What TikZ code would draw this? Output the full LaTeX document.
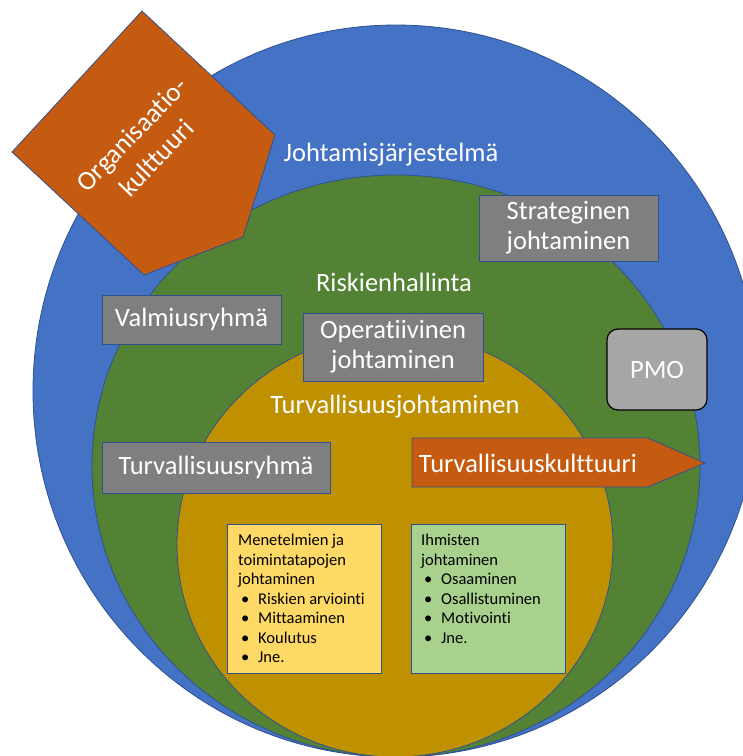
\documentclass[tikz,border=0pt]{standalone}
\usepackage{fontspec}
\setmainfont[RawFeature={-liga;-clig;-calt;-dlig}]{Carlito}
\definecolor{cblue}{HTML}{4472C4}
\definecolor{cgreen}{HTML}{548235}
\definecolor{cgold}{HTML}{BF9000}
\definecolor{corange}{HTML}{C55A11}
\definecolor{cgray}{HTML}{7F7F7F}
\definecolor{cpmo}{HTML}{A6A6A6}
\definecolor{cyellow}{HTML}{FFD966}
\definecolor{clgreen}{HTML}{A9D18E}
\definecolor{cline}{HTML}{2F528F}
\tikzset{
  ring/.style={draw=cline, line width=0.8pt},
  graybox/.style={draw=cline, line width=0.8pt, fill=cgray, text=white, font=\fontsize{26.5}{30}\selectfont, align=center, inner sep=0pt},
  bigtext/.style={text=white, font=\fontsize{26.5}{30}\selectfont, align=center, inner sep=0pt},
  smalltext/.style={text=black, font=\fontsize{16.5}{19}\selectfont, inner sep=0pt, anchor=base west},
  listbox/.style={draw=cline, line width=0.8pt},
}
\newcommand{\bul}{\hspace*{3pt}\makebox[17pt][l]{\textbullet}}
\begin{document}
\begin{tikzpicture}[x=1pt,y=-1pt]
\useasboundingbox (0,0) rectangle (743,756);
\clip (0,0) rectangle (743,756);
\fill[white] (0,0) rectangle (743,756);
% rings
\draw[ring, fill=cblue] (396,391) ellipse [x radius=363pt, y radius=366pt];
\draw[ring, fill=cgreen] (396,466) ellipse [x radius=304pt, y radius=291pt];
\draw[ring, fill=cgold] (395,545) ellipse [x radius=218pt, y radius=212pt];
% organisation culture pentagon
\draw[draw=cline, line width=0.8pt, fill=corange] (142,11) -- (275,135) -- (243,237) -- (144,275) -- (12,152) -- cycle;
\node[bigtext, font=\fontsize{27}{34}\selectfont, rotate=46] (org) at (144,146) {Organisaatio-\\kulttuuri};
% labels
\node[bigtext] (jj) at (391,155) {Johtamisjärjestelmä};
\node[bigtext] (rh) at (394,282) {Riskienhallinta};
\node[bigtext] (tj) at (395,407) {Turvallisuusjohtaminen};
% gray boxes
\node[graybox, minimum width=179pt, minimum height=66pt] (sj) at (568.5,228) {Strateginen\\johtaminen};
\node[graybox, minimum width=179pt, minimum height=49pt] (vr) at (191.5,319.5) {Valmiusryhmä};
\node[graybox, minimum width=180pt, minimum height=68pt] (oj) at (393,347) {Operatiivinen\\johtaminen};
\node[graybox, minimum width=228pt, minimum height=51pt] (tr) at (216,467.5) {Turvallisuusryhmä};
% PMO
\node[draw=black, line width=1.2pt, fill=cpmo, rounded corners=11pt, minimum width=100pt, minimum height=81pt, text=white, font=\fontsize{26.5}{30}\selectfont] (pmo) at (657,369.5) {PMO};
% safety culture arrow
\draw[draw=cline, line width=0.8pt, fill=corange] (412,438) -- (648,438) -- (705,463) -- (648,487) -- (412,487) -- cycle;
\node[bigtext] (tk) at (528,463) {Turvallisuuskulttuuri};
% list boxes
\draw[listbox, fill=cyellow] (227,524) rectangle (381,673);
\draw[listbox, fill=clgreen] (411,524) rectangle (565,673);
\node[smalltext] (y1) at (238,545.5) {Menetelmien ja};
\node[smalltext] (y2) at (238,565) {toimintatapojen};
\node[smalltext] (y3) at (238,584.5) {johtaminen};
\node[smalltext] (y4) at (238,604) {\bul Riskien arviointi};
\node[smalltext] (y5) at (238,623.5) {\bul Mittaaminen};
\node[smalltext] (y6) at (238,643) {\bul Koulutus};
\node[smalltext] (y7) at (238,662.5) {\bul Jne.};
\node[smalltext] (g1) at (421,545.5) {Ihmisten};
\node[smalltext] (g2) at (421,565) {johtaminen};
\node[smalltext] (g3) at (421,584.5) {\bul Osaaminen};
\node[smalltext] (g4) at (421,604) {\bul Osallistuminen};
\node[smalltext] (g5) at (421,623.5) {\bul Motivointi};
\node[smalltext] (g6) at (421,643) {\bul Jne.};
\end{tikzpicture}
\end{document}
